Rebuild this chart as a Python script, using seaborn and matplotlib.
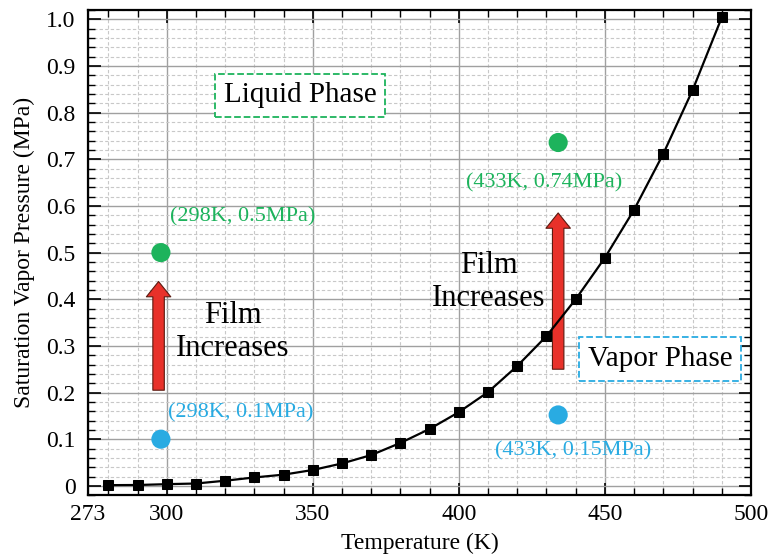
import numpy as np
import pandas as pd
import matplotlib
matplotlib.use("Agg")
import matplotlib.pyplot as plt
import seaborn as sns
from matplotlib.ticker import MultipleLocator, FixedLocator

# ---- data ----
temperature_K = [280, 290, 300, 310, 320, 330, 340, 350, 360, 370, 380,
                 390, 400, 410, 420, 430, 440, 450, 460, 470, 480, 490]
pressure_MPa = [0.0015, 0.0018, 0.0036, 0.005, 0.011, 0.018, 0.024, 0.034,
                0.048, 0.066, 0.092, 0.122, 0.158, 0.201, 0.257, 0.321,
                0.400, 0.489, 0.592, 0.712, 0.848, 1.004]

liquid_T = [298, 434]
liquid_P = [0.50, 0.736]
vapor_T = [298, 434]
vapor_P = [0.10, 0.152]
liquid_labels = ["(298K, 0.5MPa)", "(433K, 0.74MPa)"]
vapor_labels = ["(298K, 0.1MPa)", "(433K, 0.15MPa)"]
x_ticks = [273, 300, 350, 400, 450, 500]

GREEN = "#1DB35C"
BLUE = "#29ABE2"
RED = "#E8312A"

sns.set_theme(style="ticks")
plt.rcParams["font.family"] = ["Liberation Serif", "DejaVu Serif"]
plt.rcParams["text.color"] = "black"
plt.rcParams["axes.labelcolor"] = "black"

fig = plt.figure(figsize=(7.71, 5.57), dpi=100)
ax = fig.add_axes([0.114, 0.111, 0.860, 0.871])

curve = pd.DataFrame({"T": temperature_K, "P": pressure_MPa})
sns.lineplot(data=curve, x="T", y="P", ax=ax, color="black", lw=1.6,
             marker="s", markersize=7.5, markeredgecolor="black",
             markerfacecolor="black", zorder=5)

liq = pd.DataFrame({"T": liquid_T, "P": liquid_P})
vap = pd.DataFrame({"T": vapor_T, "P": vapor_P})
sns.scatterplot(data=liq, x="T", y="P", ax=ax, color=GREEN, s=190,
                edgecolor="none", zorder=6)
sns.scatterplot(data=vap, x="T", y="P", ax=ax, color=BLUE, s=190,
                edgecolor="none", zorder=6)

ax.set_xlim(273, 500)
ax.set_ylim(-0.02, 1.02)
ax.xaxis.set_major_locator(FixedLocator(x_ticks))
ax.xaxis.set_minor_locator(FixedLocator([t for t in range(280, 500, 10) if t % 50 != 0]))
ax.yaxis.set_major_locator(FixedLocator(np.round(np.arange(0, 1.01, 0.1), 1)))
ax.yaxis.set_minor_locator(MultipleLocator(0.02))
ax.set_yticklabels(["0"] + [f"{v:.1f}" for v in np.arange(0.1, 1.01, 0.1)])
ax.set_xticklabels([str(t) for t in x_ticks])

ax.tick_params(which="major", direction="in", length=9, width=1.2,
               top=True, right=True, labelsize=17, colors="black")
ax.tick_params(axis="y", which="major", pad=9)
ax.tick_params(axis="x", which="major", pad=6)
ax.tick_params(which="minor", direction="in", length=5, width=1.0,
               top=True, right=True, colors="black")
for s in ax.spines.values():
    s.set_linewidth(1.6)
    s.set_color("black")

ax.grid(which="major", color="#A0A0A0", lw=1.0, ls="-", zorder=0)
ax.grid(which="minor", color="#C8C8C8", lw=0.8, ls=(0, (3, 2)), zorder=0)
ax.set_axisbelow(True)

ax.set_xlabel("Temperature (K)", fontsize=17, labelpad=6, color="black")
ax.set_ylabel("Saturation Vapor Pressure (MPa)", fontsize=17, labelpad=8, color="black")

# point labels
ax.text(301.0, 0.576, liquid_labels[0], color=GREEN, fontsize=16, va="center", ha="left")
ax.text(429.2, 0.649, liquid_labels[1], color=GREEN, fontsize=16, va="center", ha="center")
ax.text(300.5, 0.156, vapor_labels[0], color=BLUE, fontsize=16, va="center", ha="left")
ax.text(439.0, 0.076, vapor_labels[1], color=BLUE, fontsize=16, va="center", ha="center")

# phase boxes
ax.text(345.6, 0.837, "Liquid Phase", fontsize=21, ha="center", va="center", color="black",
        bbox=dict(boxstyle="square,pad=0.3", fc="white", ec=GREEN, lw=1.3, ls="--"))
ax.text(469.0, 0.272, "Vapor Phase", fontsize=21, ha="center", va="center", color="black",
        bbox=dict(boxstyle="square,pad=0.3", fc="white", ec=BLUE, lw=1.3, ls="--"))

# film increases
ax.text(322.5, 0.33, "Film\nIncreases", fontsize=22, ha="center", va="center",
        linespacing=1.2, color="black")
ax.text(410.3, 0.437, "Film\nIncreases", fontsize=22, ha="center", va="center",
        linespacing=1.2, color="black")

# arrows
def up_arrow(x, y0, y1):
    ax.annotate("", xy=(x, y1), xytext=(x, y0),
                arrowprops=dict(arrowstyle="simple,head_length=1.0,head_width=1.6,tail_width=0.75",
                                fc=RED, ec="#5A1A10", lw=0.8,
                                mutation_scale=11, shrinkA=0, shrinkB=0),
                zorder=4)

up_arrow(297.2, 0.205, 0.438)
up_arrow(434.0, 0.25, 0.585)

fig.savefig("out.png", dpi=100)
